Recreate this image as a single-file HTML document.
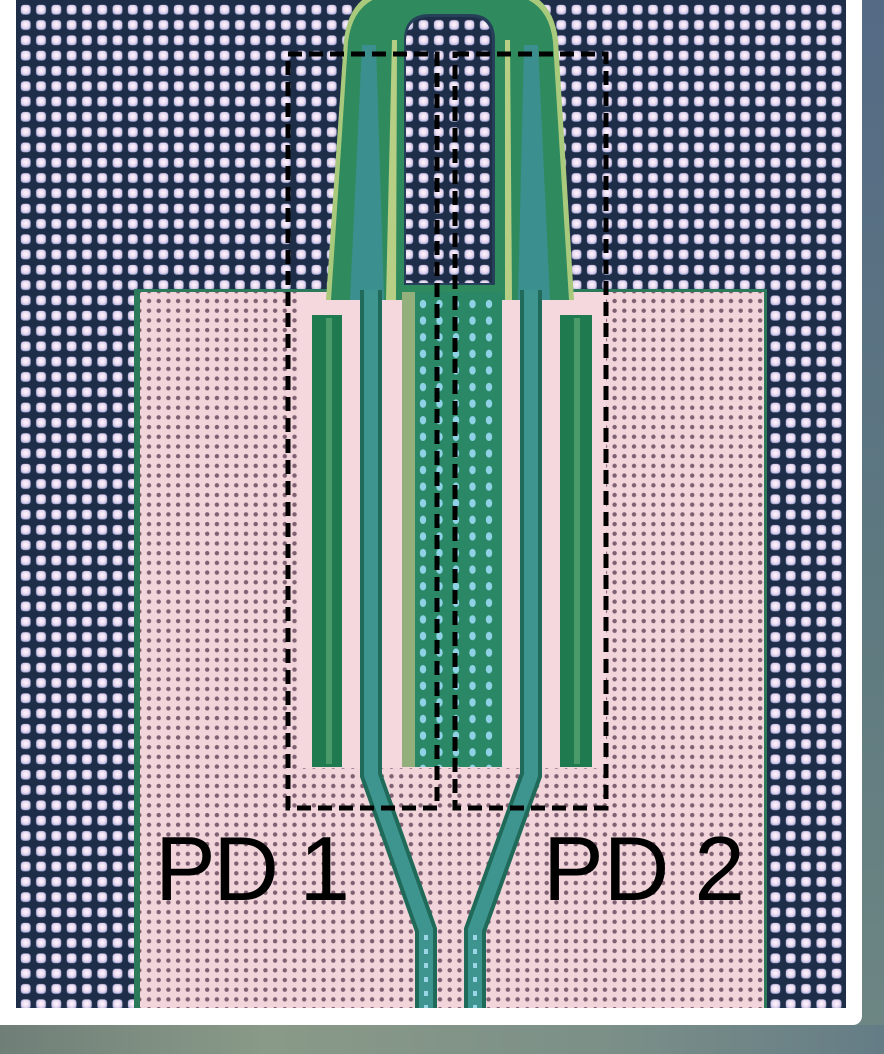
<!DOCTYPE html>
<html><head><meta charset="utf-8"><style>
html,body{margin:0;padding:0;width:884px;height:1054px;overflow:hidden;background:#6d8080}
svg{display:block}
</style></head><body>
<svg width="884" height="1054" viewBox="0 0 884 1054" xmlns="http://www.w3.org/2000/svg">
<defs>
  <linearGradient id="bgR" x1="0" y1="0" x2="0" y2="1">
    <stop offset="0" stop-color="#556a85"/><stop offset="0.6" stop-color="#5f7a80"/><stop offset="1" stop-color="#6e8784"/>
  </linearGradient>
  <linearGradient id="bgB" x1="0" y1="0" x2="1" y2="0">
    <stop offset="0" stop-color="#6f7f78"/><stop offset="0.3" stop-color="#8a9a88"/><stop offset="0.7" stop-color="#7b8f88"/><stop offset="1" stop-color="#647c86"/>
  </linearGradient>
  <radialGradient id="dotG" cx="0.5" cy="0.45" r="0.65">
    <stop offset="0" stop-color="#fff8ff"/><stop offset="0.55" stop-color="#ead9f0"/><stop offset="1" stop-color="#8a9bd0"/>
  </radialGradient>
  <pattern id="blueDots" x="18" y="2" width="15.3" height="15.3" patternUnits="userSpaceOnUse">
    <rect width="15.3" height="15.3" fill="#1f2e48"/>
    <rect x="2.8" y="2.8" width="9.8" height="9.8" rx="3" fill="url(#dotG)"/>
  </pattern>
  <pattern id="pinkDots" x="144" y="296" width="9.7" height="9.7" patternUnits="userSpaceOnUse">
    <rect width="9.7" height="9.7" fill="#f2d5da"/>
    <circle cx="5" cy="5" r="2.2" fill="#7e6072"/>
  </pattern>
  <pattern id="cyanDots" x="415" y="296" width="16.5" height="16.6" patternUnits="userSpaceOnUse">
    <rect width="16.5" height="16.6" fill="#2a8866"/>
    <ellipse cx="8" cy="8" rx="3.2" ry="4.2" fill="#8fd2e6"/>
  </pattern>
  <clipPath id="imgClip"><rect x="16" y="0" width="830" height="1008"/></clipPath>
</defs>

<rect x="0" y="0" width="884" height="1054" fill="url(#bgR)"/>
<rect x="0" y="1025" width="884" height="29" fill="url(#bgB)"/>
<rect x="-10" y="-10" width="872" height="1035" rx="9" fill="#ffffff"/>

<g clip-path="url(#imgClip)">
  <rect x="16" y="0" width="830" height="1008" fill="url(#blueDots)"/>

  <rect x="134" y="289" width="633" height="730" fill="#2d7a5a"/>
  <rect x="140" y="292" width="624" height="730" fill="url(#pinkDots)"/>
  <rect x="298" y="292" width="308" height="476" fill="#f4d8dd"/>

  <path d="M326,300 L344,40 Q350,-12 400,-12 L500,-12 Q552,-12 558,40 L574,300 Z" fill="#a9c97c"/>
  <path d="M331,300 L348,42 Q354,-6 400,-6 L500,-6 Q548,-6 553,42 L569,300 Z" fill="#2f8b5e"/>
  <path d="M350,300 L362,45 L376,45 L384,300 Z" fill="#3b8f8f"/>
  <path d="M518,300 L524,45 L538,45 L550,300 Z" fill="#3b8f8f"/>
  <path d="M386,300 L392,40 L397,40 L396,300 Z" fill="#b7cf84"/>
  <path d="M505,300 L505,40 L510,40 L512,300 Z" fill="#b7cf84"/>
  <path d="M404,285 L404,40 Q404,14 430,14 L470,14 Q495,14 495,40 L495,285 Z" fill="#26405a"/>
  <path d="M406,283 L406,42 Q406,17 430,17 L470,17 Q492,17 492,42 L492,283 Z" fill="url(#blueDots)"/>

  <rect x="312" y="315" width="30" height="452" fill="#1f7a50"/>
  <rect x="326" y="318" width="6" height="446" fill="#4a9a6a"/>
  <rect x="560" y="315" width="32" height="452" fill="#1f7a50"/>
  <rect x="574" y="318" width="6" height="446" fill="#4a9a6a"/>
  <rect x="402" y="292" width="13" height="475" fill="#93b07c"/>
  <rect x="415" y="292" width="87" height="475" fill="url(#cyanDots)"/>

  <polyline points="371,290 371,775 426,930 426,1012" fill="none" stroke="#1f6a58" stroke-width="22"/>
  <polyline points="371,290 371,775 426,930 426,1012" fill="none" stroke="#3e9590" stroke-width="14"/>
  <polyline points="531,290 531,775 475,930 475,1012" fill="none" stroke="#1f6a58" stroke-width="22"/>
  <polyline points="531,290 531,775 475,930 475,1012" fill="none" stroke="#3e9590" stroke-width="14"/>
  <line x1="426" y1="935" x2="426" y2="1008" stroke="#9ad6e6" stroke-width="4" stroke-dasharray="5 9"/>
  <line x1="475" y1="935" x2="475" y2="1008" stroke="#9ad6e6" stroke-width="4" stroke-dasharray="5 9"/>

  <rect x="288" y="54" width="149" height="754" fill="none" stroke="#000" stroke-width="5" stroke-dasharray="14 7"/>
  <rect x="455" y="54" width="151" height="754" fill="none" stroke="#000" stroke-width="5" stroke-dasharray="14 7"/>

  <text x="155" y="900" font-family="Liberation Sans, Arial, sans-serif" font-size="91" fill="#000" textLength="195">PD 1</text>
  <text x="543" y="900" font-family="Liberation Sans, Arial, sans-serif" font-size="91" fill="#000" textLength="202">PD 2</text>
</g>
</svg>
</body></html>
